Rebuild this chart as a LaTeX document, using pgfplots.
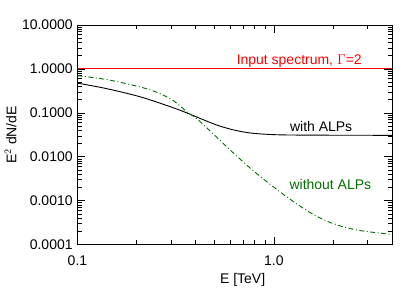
\documentclass[border=0pt]{standalone}
\usepackage{fontspec}
\setmainfont{Liberation Sans}
\usepackage{pgfplots}
\pgfplotsset{compat=1.18}
\definecolor{dgreen}{RGB}{0,110,0}
\definecolor{myred}{RGB}{255,0,0}
\begin{document}
\fontsize{14bp}{16bp}\selectfont
\begin{tikzpicture}
\begin{axis}[
  scale only axis, width=315bp, height=220bp,
  xmode=log, ymode=log,
  xmin=0.1, xmax=4, ymin=1e-4, ymax=10,
  xtick={0.1,1}, xticklabels={0.1,1.0},
  ytick={1e-4,1e-3,1e-2,1e-1,1,10},
  yticklabels={0.0001,0.0010,0.0100,0.1000,1.0000,10.0000},
  minor xtick={0.2,0.3,0.4,0.5,0.6,0.7,0.8,0.9,2,3},
  minor ytick={2e-4,3e-4,4e-4,5e-4,6e-4,7e-4,8e-4,9e-4,
               2e-3,3e-3,4e-3,5e-3,6e-3,7e-3,8e-3,9e-3,
               2e-2,3e-2,4e-2,5e-2,6e-2,7e-2,8e-2,9e-2,
               0.2,0.3,0.4,0.5,0.6,0.7,0.8,0.9,
               2,3,4,5,6,7,8,9},
  major tick length=8bp, minor tick length=4.5bp,
  axis line style={line width=0.8bp},
  tick style={black,line width=0.6bp},
  tick label style={font=\fontsize{14bp}{16bp}\selectfont},
  xticklabel style={yshift=-6bp},
  label style={font=\fontsize{14bp}{16bp}\selectfont},
  xlabel={E [TeV]},
  xlabel style={at={(axis description cs:0.525,0)}, anchor=center, yshift=-35bp},
  ylabel={E$^2$ dN/dE},
  ylabel style={at={(axis description cs:-0.2127,0.5)}, anchor=center},
  clip=true,
]
\addplot[color=black, line width=0.9bp, smooth, tension=0.5] coordinates {
(0.1,0.475) (0.142,0.353) (0.212,0.2275) (0.313,0.127) (0.364,0.098)
(0.430,0.072) (0.518,0.0519) (0.632,0.0403) (0.782,0.0343) (1.073,0.0316)
(1.93,0.0310) (4.0,0.0308)};
\addplot[color=dgreen, line width=0.9bp, smooth, tension=0.5,
  dash pattern=on 5bp off 2.5bp on 1bp off 2.5bp] coordinates {
(0.1,0.702) (0.142,0.569) (0.212,0.381) (0.262,0.277) (0.313,0.180)
(0.364,0.102) (0.409,0.0711) (0.518,0.0265) (0.632,0.01146) (0.782,0.00491)
(0.955,0.00239) (1.138,0.00132) (1.357,0.000760) (1.619,0.000466)
(1.93,0.000321) (2.36,0.000242) (2.84,0.000205) (4.0,0.000170)};
\addplot[color=red, line width=1bp] coordinates {(0.1,1) (0.5,1) (1,1) (4,1)};
\node[myred, anchor=base east, inner sep=0pt] at (axis cs:2.81,1.23) {Input spectrum, $\Gamma$=2};
\node[black, anchor=base west, inner sep=0pt] at (axis cs:1.207,0.037) {with ALPs};
\node[dgreen, anchor=base west, inner sep=0pt] at (axis cs:1.2,0.00178) {without ALPs};
\end{axis}
\path (current axis.south west) ++(-77bp,-52bp) coordinate (bbsw);
\path (current axis.north east) ++(23bp,25bp) coordinate (bbne);
\path (bbsw) rectangle (bbne);
\end{tikzpicture}
\end{document}
